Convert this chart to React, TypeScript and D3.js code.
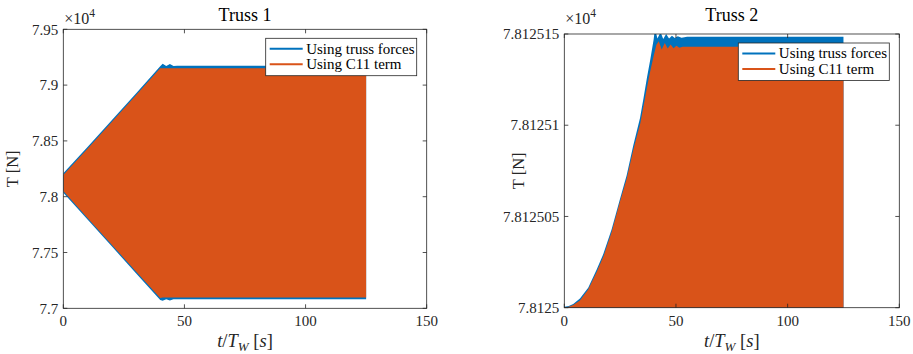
import React from 'react';
import * as d3 from 'd3';

const BLUE = '#0072BD';
const ORANGE = '#D95319';
const AX = '#262626';
const FONT = '"Liberation Serif", "Times New Roman", serif';

const seriesNames = ['Using truss forces', 'Using C11 term'];
const xTicks = [0, 50, 100, 150];

// Truss 1: envelope of the fast oscillation (T in units of 10^4 N)
const t1Time = [0, 10, 20, 30, 40, 41, 42.5, 44, 45.5, 47, 125];
const t1BlueUp = [7.821, 7.8445, 7.8685, 7.8925, 7.9168, 7.9191, 7.9172, 7.919, 7.9172, 7.9174, 7.9172];
const t1BlueLow = [7.8035, 7.7795, 7.7555, 7.7315, 7.7075, 7.7067, 7.7082, 7.707, 7.7082, 7.7081, 7.7082];
const t1OrangeUp = [7.8195, 7.843, 7.867, 7.891, 7.915, 7.9152, 7.9152, 7.9152, 7.9152, 7.9152, 7.9152];
const t1OrangeLow = [7.805, 7.781, 7.757, 7.733, 7.7092, 7.7097, 7.7097, 7.7097, 7.7097, 7.7097, 7.7097];
const t1Ticks = [7.7, 7.75, 7.8, 7.85, 7.9, 7.95];

// Truss 2: upper envelope (lower part is clipped at the axis bottom)
const t2BlueTime = [0, 2, 4, 7, 10.7, 14.5, 17.5, 21.2, 24.9, 27.9, 30.9, 33.9, 35.5, 37, 38.5, 40, 40.6, 41.7, 43.1, 44.3, 45.6, 46.9, 48.2, 49.5, 50.8, 52.5, 55, 125];
const t2Blue = [7.81250005, 7.8125001, 7.8125002, 7.8125005, 7.8125011, 7.8125021, 7.81250295, 7.8125043, 7.81250595, 7.81250725, 7.8125089, 7.8125104, 7.8125115, 7.8125126, 7.8125136, 7.8125147, 7.8125153, 7.81251475, 7.8125151, 7.81251472, 7.812515, 7.81251475, 7.8125149, 7.81251478, 7.81251487, 7.8125148, 7.81251485, 7.81251485];
const t2OrangeTime = [0, 2, 4, 7, 10.7, 14.5, 17.5, 21.2, 24.9, 27.9, 30.9, 34, 36, 38, 40, 41.2, 42.3, 43.6, 45, 46.3, 47.6, 48.9, 50.2, 51.5, 53, 125];
const t2Orange = [7.8125, 7.81250005, 7.81250015, 7.8125004, 7.812501, 7.81250195, 7.8125028, 7.81250415, 7.8125058, 7.81250705, 7.81250865, 7.8125101, 7.8125114, 7.8125127, 7.8125138, 7.8125144, 7.8125146, 7.81251415, 7.8125145, 7.8125142, 7.81251443, 7.81251422, 7.81251435, 7.81251425, 7.8125143, 7.8125143];
const t2Ticks = [7.8125, 7.812505, 7.81251, 7.812515];
const t2TickLabels = ['7.8125', '7.812505', '7.81251', '7.812515'];

type Band = { color: string; time: number[]; up: number[]; low?: number[] };

function Panel(props: {
  id: string;
  left: number; right: number; top: number; bottom: number;
  title: string;
  yDomain: [number, number];
  yTicks: number[];
  yLabels: string[];
  bands: Band[];
  ylabelX: number;
}) {
  const { id, left, right, top, bottom, title, yDomain, yTicks, yLabels, bands, ylabelX } = props;
  const x = d3.scaleLinear().domain([0, 150]).range([left, right]);
  const y = d3.scaleLinear().domain(yDomain).range([bottom, top]);
  const cx = (left + right) / 2;
  const cy = (top + bottom) / 2;
  const tl = 4;

  const legX = right - 161;
  const legY = top + 9;

  return (
    <g>
      <defs>
        <clipPath id={id}>
          <rect x={left} y={top} width={right - left} height={bottom - top} />
        </clipPath>
      </defs>
      <g clipPath={`url(#${id})`}>
        {bands.map((b, i) => {
          const pts = b.time.map((t, k) => ({ t, up: b.up[k], low: b.low ? b.low[k] : yDomain[0] - 1 }));
          const area = d3.area<{ t: number; up: number; low: number }>()
            .x(d => x(d.t))
            .y0(d => y(d.low))
            .y1(d => y(d.up));
          return <path key={i} d={area(pts) || ''} fill={b.color} />;
        })}
      </g>

      {/* box */}
      <rect x={left} y={top} width={right - left} height={bottom - top} fill="none" stroke={AX} strokeWidth={0.8} />

      {/* x ticks */}
      {xTicks.map(t => (
        <g key={t}>
          <line x1={x(t)} x2={x(t)} y1={bottom} y2={bottom - tl} stroke={AX} strokeWidth={0.8} />
          <line x1={x(t)} x2={x(t)} y1={top} y2={top + tl} stroke={AX} strokeWidth={0.8} />
          <text x={x(t)} y={bottom + 18} textAnchor="middle" fontSize={15} fill={AX}>{t}</text>
        </g>
      ))}

      {/* y ticks */}
      {yTicks.map((v, i) => (
        <g key={v}>
          <line x1={left} x2={left + tl} y1={y(v)} y2={y(v)} stroke={AX} strokeWidth={0.8} />
          <line x1={right} x2={right - tl} y1={y(v)} y2={y(v)} stroke={AX} strokeWidth={0.8} />
          <text x={left - 5} y={y(v)} dy="0.35em" textAnchor="end" fontSize={15} fill={AX}>{yLabels[i]}</text>
        </g>
      ))}

      {/* exponent */}
      <text x={left + 1} y={23.5} fontSize={16} fill={AX}>
        ×10<tspan fontSize={11.5} dy={-6.5}>4</tspan>
      </text>

      {/* title */}
      <text x={cx} y={20.7} textAnchor="middle" fontSize={18} fill="#000">{title}</text>

      {/* axis labels */}
      <text transform={`translate(${ylabelX},${cy}) rotate(-90)`} textAnchor="middle" fontSize={16.5} fill={AX}>T [N]</text>
      <text x={cx} y={347} textAnchor="middle" fontSize={18.5} fill={AX}>
        <tspan fontStyle="italic">t</tspan>/<tspan fontStyle="italic">T</tspan>
        <tspan fontStyle="italic" fontSize={13} dy={3.5}>W</tspan>
        <tspan dy={-3.5}> [</tspan><tspan fontStyle="italic">s</tspan>]
      </text>

      {/* legend */}
      <rect x={legX} y={legY} width={151} height={37.4} fill="#fff" stroke={AX} strokeWidth={0.8} />
      {seriesNames.map((name, i) => (
        <g key={name}>
          <line x1={legX + 4} x2={legX + 37} y1={legY + 10.4 + i * 15.6} y2={legY + 10.4 + i * 15.6}
            stroke={i === 0 ? BLUE : ORANGE} strokeWidth={2} />
          <text x={legX + 40.5} y={legY + 10.4 + i * 15.6} dy="0.33em" fontSize={15} fill="#000">{name}</text>
        </g>
      ))}
    </g>
  );
}

export default function App() {
  return (
    <svg width={913} height={354} style={{ position: 'absolute', left: 0, top: 0, background: '#fff' }}
      fontFamily={FONT}>
      <rect width={913} height={354} fill="#fff" />
      <Panel
        id="c1"
        left={63.3} right={426.7} top={29.3} bottom={308.3}
        title="Truss 1"
        yDomain={[7.7, 7.95]}
        yTicks={t1Ticks}
        yLabels={t1Ticks.map(v => String(v))}
        ylabelX={18}
        bands={[
          { color: BLUE, time: t1Time, up: t1BlueUp, low: t1BlueLow },
          { color: ORANGE, time: t1Time, up: t1OrangeUp, low: t1OrangeLow },
        ]}
      />
      <Panel
        id="c2"
        left={564.3} right={899.3} top={34} bottom={307.7}
        title="Truss 2"
        yDomain={[7.8125, 7.812515]}
        yTicks={t2Ticks}
        yLabels={t2TickLabels}
        ylabelX={524}
        bands={[
          { color: BLUE, time: t2BlueTime, up: t2Blue },
          { color: ORANGE, time: t2OrangeTime, up: t2Orange },
        ]}
      />
    </svg>
  );
}
